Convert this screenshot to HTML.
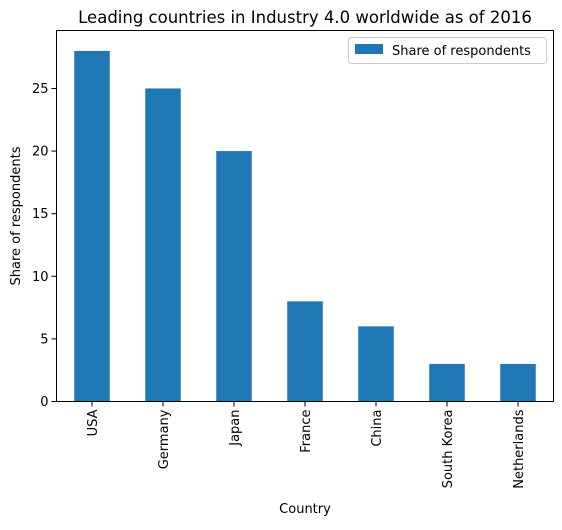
<!DOCTYPE html>
<html><head><meta charset="utf-8"><style>
body{margin:0;background:#fff;}
svg text{font-family:"DejaVu Sans","Liberation Sans",sans-serif;fill:#000;}
</style></head><body>
<svg id="chart" width="562" height="525" viewBox="0 0 562 525">
<text x="305" y="23" font-size="16.5" text-anchor="middle">Leading countries in Industry 4.0 worldwide as of 2016</text>
<g id="bars"></g><g id="xticks"></g><g id="yticks"></g>
<rect x="56.5" y="30.5" width="497" height="371" fill="none" stroke="#000" stroke-width="1"/>
<text x="305" y="513" font-size="13" text-anchor="middle">Country</text>
<text transform="translate(20,216) rotate(-90)" font-size="13" text-anchor="middle">Share of respondents</text>
<g>
<rect x="348.5" y="37.5" width="198" height="26" rx="3" fill="#fff" stroke="#ccc"/>
<rect x="355" y="44" width="28" height="10" fill="#1f77b4"/>
<text x="392" y="55" font-size="13">Share of respondents</text>
</g>
</svg>
<script>
const categories=["USA","Germany","Japan","France","China","South Korea","Netherlands"];
const values=[28,25,20,8,6,3,3];
const yTicks=[0,5,10,15,20,25];
const L=56.5,R=553.5,T=30.5,B=401.5,yMax=29.63;
const ns="http://www.w3.org/2000/svg";
const step=(R-L)/categories.length;
const xc=i=>L+step*(i+0.5);
const y=v=>B-(v/yMax)*(B-T);
const bars=document.getElementById('bars'),xt=document.getElementById('xticks'),yt=document.getElementById('yticks');
categories.forEach((c,i)=>{
 const r=document.createElementNS(ns,'rect');
 r.setAttribute('x',xc(i)-step/4);r.setAttribute('width',step/2);
 r.setAttribute('y',y(values[i]));r.setAttribute('height',B-y(values[i]));
 r.setAttribute('fill','#1f77b4');
 
 
 bars.appendChild(r);
 const l=document.createElementNS(ns,'line');
 l.setAttribute('x1',xc(i));l.setAttribute('x2',xc(i));l.setAttribute('y1',B);l.setAttribute('y2',B+5);l.setAttribute('stroke','#000');
 
 
 xt.appendChild(l);
 const t=document.createElementNS(ns,'text');
 t.setAttribute('transform',`translate(${xc(i)+5},${B+8}) rotate(-90)`);
 t.setAttribute('text-anchor','end');t.setAttribute('font-size','13');t.textContent=c;
 
 
 xt.appendChild(t);
});
yTicks.forEach(v=>{
 const l=document.createElementNS(ns,'line');
 l.setAttribute('x1',L-5);l.setAttribute('x2',L);l.setAttribute('y1',y(v));l.setAttribute('y2',y(v));l.setAttribute('stroke','#000');
 
 
 yt.appendChild(l);
 const t=document.createElementNS(ns,'text');
 t.setAttribute('x',L-8);t.setAttribute('y',y(v)+4.5);t.setAttribute('text-anchor','end');t.setAttribute('font-size','13');t.textContent=v;
 
 
 yt.appendChild(t);
});
</script>
</body></html>
